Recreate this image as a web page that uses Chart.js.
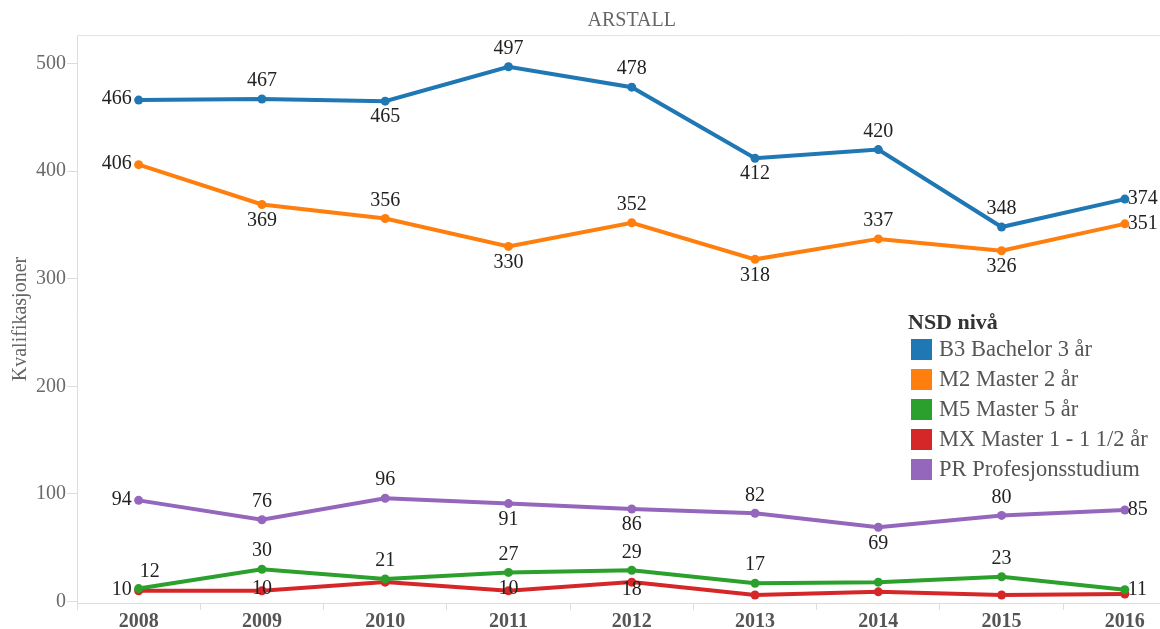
<!DOCTYPE html>
<html>
<head>
<meta charset="utf-8">
<script src="https://cdn.jsdelivr.net/npm/chart.js@4.4.1/dist/chart.umd.min.js"></script>
<style>
  body { margin: 0; overflow: hidden; background: #fff; font-family: "Liberation Serif", "DejaVu Serif", serif; }
  #wrap { position: relative; width: 1160px; height: 629px; overflow: hidden; }
  #chart { position: absolute; left: 0; top: 0; }
  #legend { position: absolute; left: 908px; top: 310px; color: #555; }
  #legend .ttl { font-weight: bold; font-size: 22px; line-height: 24px; height: 24px; color: #333; }
  #legend .row { height: 30px; display: flex; align-items: center; font-size: 22.5px; white-space: nowrap; }
  #legend .box { width: 21px; height: 21px; margin-left: 3px; margin-right: 7px; }
</style>
</head>
<body>
<div id="wrap">
  <canvas id="chart" width="1191" height="629"></canvas>
  <div id="legend"></div>
</div>
<script>
// Categories (x axis)
const years = ['2008', '2009', '2010', '2011', '2012', '2013', '2014', '2015', '2016'];

// Series values
const bachelor3 = [466, 467, 465, 497, 478, 412, 420, 348, 374];
const master2 = [406, 369, 356, 330, 352, 318, 337, 326, 351];
const master5 = [12, 30, 21, 27, 29, 17, 18, 23, 11];
const masterX = [10, 10, 18, 10, 18, 6, 9, 6, 7];
const profesjon = [94, 76, 96, 91, 86, 82, 69, 80, 85];

const seriesNames = ['B3 Bachelor 3 år', 'M2 Master 2 år', 'M5 Master 5 år', 'MX Master 1 - 1 1/2 år', 'PR Profesjonsstudium'];
const yTicks = [0, 100, 200, 300, 400, 500];

const colors = ['#1f77b4', '#ff7f0e', '#2ca02c', '#d62728', '#9467bd'];

// where each value label sits relative to its point (null = no label)
const labelPlacement = [
    ['left', 'above', 'below', 'above', 'above', 'below', 'above', 'above', 'right'],
    ['left', 'below', 'above', 'below', 'above', 'below', 'above', 'below', 'right'],
    ['aboveRight', 'above', 'above', 'above', 'above', 'above', null, 'above', 'right'],
    ['left', 'center', null, 'center', 'belowNear', null, null, null, null],
    ['left', 'above', 'above', 'below', 'below', 'above', 'below', 'above', 'right']
];

const FONT = '"Liberation Serif", "DejaVu Serif", serif';

const allSeries = [bachelor3, master2, master5, masterX, profesjon];

// build the datasets; red gets the highest order so it is drawn under green
const datasets = allSeries.map((vals, i) => ({
    label: seriesNames[i],
    data: vals,
    borderColor: colors[i],
    backgroundColor: colors[i],
    pointBackgroundColor: colors[i],
    pointBorderWidth: 0,
    pointRadius: 4.5,
    borderWidth: 4,
    tension: 0,
    order: i === 3 ? 5 : i
}));

// Draws the title, the thin top frame line and the value labels
const valueLabels = {
    id: 'valueLabels',
    afterDatasetsDraw(chart) {
        const ctx = chart.ctx;
        const area = chart.chartArea;
        ctx.save();
        ctx.strokeStyle = '#e3e3e3';
        ctx.lineWidth = 1;
        ctx.beginPath();
        ctx.moveTo(area.left, area.top + 0.5);
        ctx.lineTo(area.right, area.top + 0.5);
        ctx.stroke();

        // title centred over the plot (plot runs off the right edge of the page)
        ctx.font = '20px ' + FONT;
        ctx.fillStyle = '#666';
        ctx.textAlign = 'center';
        ctx.textBaseline = 'middle';
        ctx.fillText('ARSTALL', (area.left + area.right) / 2, 21);

        ctx.fillStyle = '#222';
        chart.data.datasets.forEach((ds, i) => {
            const meta = chart.getDatasetMeta(i);
            meta.data.forEach((pt, j) => {
                const where = labelPlacement[i][j];
                if (!where) return;
                const txt = String(ds.data[j]);
                let x = pt.x, y = pt.y;
                ctx.textAlign = 'center';
                if (where === 'above') y -= 18;
                else if (where === 'below') y += 16;
                else if (where === 'left') { ctx.textAlign = 'right'; x -= 7; y -= 1; }
                else if (where === 'right') { ctx.textAlign = 'left'; x += 3; }
                else if (where === 'aboveRight') { ctx.textAlign = 'left'; x += 1; y -= 17; }
                else if (where === 'center') y -= 2;
                else if (where === 'belowNear') y += 8;
                ctx.fillText(txt, x, y);
            });
        });
        ctx.restore();
    }
};

new Chart(document.getElementById('chart'), {
    type: 'line',
    data: { labels: years, datasets: datasets },
    options: {
        responsive: false,
        animation: false,
        layout: { padding: { left: 0, right: 0, top: 35, bottom: 0 } },
        plugins: {
            legend: { display: false },
            tooltip: { enabled: false }
        },
        scales: {
            x: {
                offset: true,
                grid: { offset: true, drawOnChartArea: false, tickLength: 7, color: '#ddd' },
                border: { color: '#ddd' },
                ticks: { color: '#555', font: { family: FONT, size: 20, weight: 'bold' }, padding: 0, maxRotation: 0 },
                afterFit(scale) { scale.height = 26; }
            },
            y: {
                min: -1.4,
                max: 526.5,
                grid: { drawOnChartArea: false, tickLength: 10, color: '#ddd' },
                border: { color: '#ddd' },
                afterBuildTicks(scale) { scale.ticks = yTicks.map(v => ({ value: v })); },
                ticks: { color: '#6a6a6a', font: { family: FONT, size: 20 }, padding: 1 },
                title: {
                    display: true,
                    text: 'Kvalifikasjoner',
                    color: '#666',
                    font: { family: FONT, size: 20 },
                    padding: { top: 9, bottom: 0 }
                },
                afterFit(scale) { scale.width = 77; }
            }
        }
    },
    plugins: [valueLabels]
});

// legend box inside the plot, like the original
const legend = document.getElementById('legend');
legend.innerHTML = '<div class="ttl">NSD nivå</div>' + seriesNames.map((n, i) =>
    `<div class="row"><span class="box" style="background:${colors[i]}"></span>${n}</div>`).join('');
</script>
</body>
</html>
